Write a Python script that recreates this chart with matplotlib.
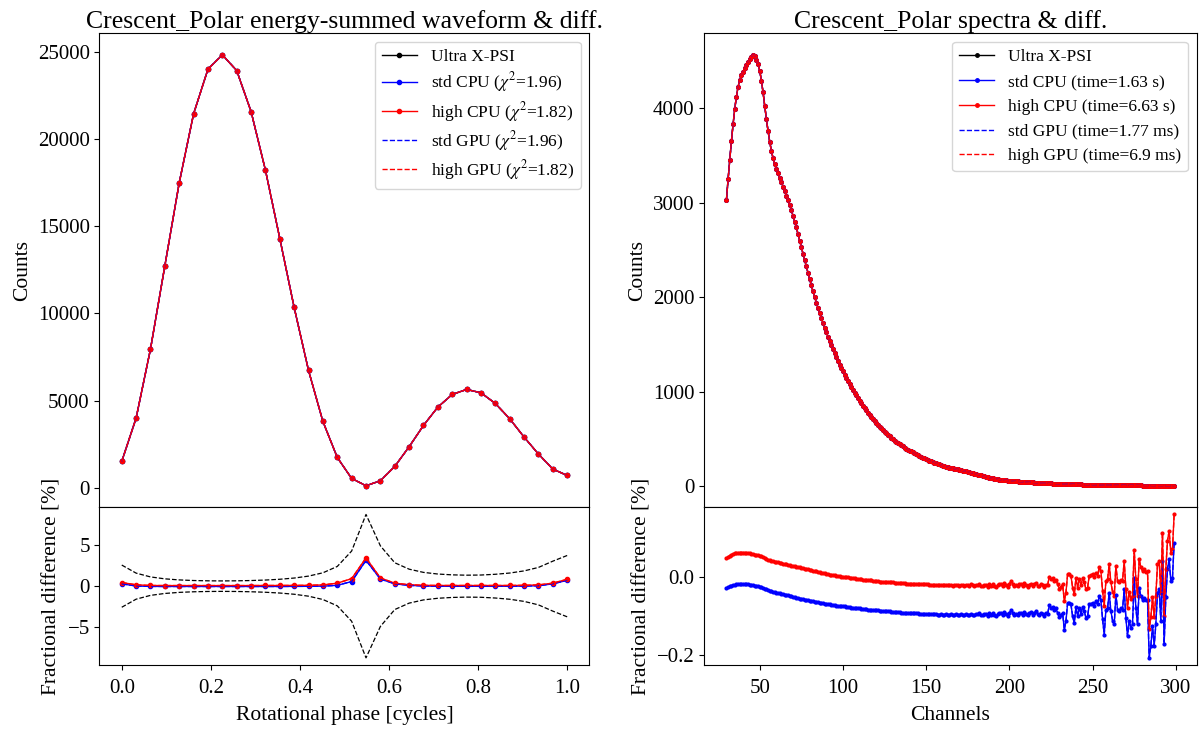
import matplotlib
matplotlib.use("Agg")
import matplotlib.pyplot as plt

plt.rcParams['font.family'] = ['Liberation Serif', 'DejaVu Serif']
plt.rcParams['mathtext.fontset'] = 'stix'

# ---------------- Left: energy-summed waveform ----------------
phase = [i / 31 for i in range(32)]
wave_counts = [1523, 4008, 7959, 12729, 17482, 21433, 23992, 24811, 23912, 21564,
               18209, 14292, 10341, 6734, 3813, 1752, 550, 132, 418, 1237,
               2365, 3585, 4638, 5360, 5646, 5457, 4844, 3968, 2920, 1947,
               1088, 721]
wave_sigma = [2.56, 1.58, 1.12, 0.886, 0.756, 0.683, 0.646, 0.635, 0.647, 0.681,
              0.741, 0.836, 0.983, 1.219, 1.62, 2.39, 4.26, 8.70, 4.89, 2.84,
              2.06, 1.67, 1.47, 1.37, 1.33, 1.35, 1.44, 1.59, 1.85, 2.27,
              3.03, 3.72]
wave_diff_high = [0.44, 0.16, 0.08, 0.07, 0.07, 0.07, 0.07, 0.07, 0.07, 0.07,
                  0.08, 0.08, 0.09, 0.10, 0.15, 0.36, 0.91, 3.42, 0.99, 0.36,
                  0.17, 0.10, 0.08, 0.08, 0.08, 0.08, 0.08, 0.08, 0.10, 0.15,
                  0.36, 0.83]
wave_diff_std = [0.28, 0.02, -0.03, -0.04, -0.04, -0.04, -0.04, -0.04, -0.04, -0.04,
                 -0.04, -0.04, -0.03, -0.02, 0.00, 0.10, 0.56, 3.13, 0.87, 0.28,
                 0.10, 0.02, -0.01, -0.02, -0.02, -0.02, -0.02, -0.01, 0.01, 0.05,
                 0.28, 0.71]

# ---------------- Right: spectra ----------------
channels = list(range(30, 300))
spec_counts = [
    3030, 3249, 3453, 3654, 3831, 3994, 4124, 4227, 4301, 4354,
    4389, 4424, 4460, 4488, 4520, 4548, 4566, 4558, 4513, 4467,
    4400, 4294, 4170, 4029, 3888, 3761, 3648, 3549, 3475, 3408,
    3355, 3312, 3266, 3224, 3171, 3125, 3075, 3030, 2977, 2924,
    2863, 2800, 2740, 2669, 2599, 2530, 2462, 2393, 2325, 2258,
    2192, 2127, 2063, 2000, 1942, 1886, 1831, 1778, 1727, 1677,
    1628, 1581, 1535, 1491, 1448, 1406, 1365, 1326, 1287, 1250,
    1214, 1179, 1145, 1112, 1079, 1048, 1018, 988, 959, 931,
    903, 876, 850, 825, 801, 777, 754, 732, 710, 689,
    669, 649, 630, 611, 593, 575, 558, 542, 526, 510,
    495, 482, 469, 456, 443, 431, 420, 408, 397, 386,
    376, 366, 356, 346, 337, 328, 319, 310, 302, 293,
    285, 278, 270, 263, 256, 249, 242, 236, 229, 223,
    217, 211, 205, 200, 196, 192, 188, 184, 180, 176,
    172, 168, 164, 160, 156, 152, 147, 142, 137, 132,
    127, 122, 117, 112, 107, 102, 97, 92, 88, 84,
    80, 77, 74, 71, 68, 66, 64, 62, 60, 58,
    56, 54.4, 52.9, 51.4, 50.0, 48.6, 47.2, 45.9, 44.6, 43.4,
    42.2, 41.0, 39.8, 38.7, 37.6, 36.6, 35.5, 34.5, 33.6, 32.6,
    31.7, 30.8, 30.0, 29.1, 28.3, 27.5, 26.8, 26.0, 25.3, 24.6,
    23.9, 23.2, 22.6, 21.9, 21.3, 20.7, 20.1, 19.6, 19.0, 18.5,
    18.0, 17.5, 17.0, 16.5, 16.1, 15.6, 15.2, 14.8, 14.3, 13.9,
    13.5, 13.2, 12.8, 12.4, 12.1, 11.7, 11.4, 11.1, 10.8, 10.5,
    10.2, 9.9, 9.6, 9.3, 9.1, 8.8, 8.6, 8.3, 8.1, 7.9,
    7.6, 7.4, 7.2, 7.0, 6.8, 6.6, 6.4, 6.3, 6.1, 5.9,
    5.7, 5.6, 5.4, 5.3, 5.1, 5.0, 4.8, 4.7, 4.6, 4.4,
    4.3, 4.2, 4.1, 3.9, 3.8, 3.7, 3.6, 3.5, 3.4, 3.3]

spec_diff_high = [
    0.046, 0.050, 0.053, 0.056, 0.058, 0.059, 0.060, 0.061, 0.061, 0.061,
    0.061, 0.061, 0.060, 0.060, 0.059, 0.058, 0.057, 0.056, 0.055, 0.054,
    0.053, 0.051, 0.049, 0.047, 0.045, 0.043, 0.041, 0.040, 0.039, 0.038,
    0.037, 0.036, 0.035, 0.034, 0.033, 0.032, 0.031, 0.030, 0.029, 0.028,
    0.027, 0.026, 0.025, 0.024, 0.023, 0.022, 0.021, 0.020, 0.019, 0.018,
    0.017, 0.016, 0.015, 0.014, 0.013, 0.012, 0.011, 0.010, 0.009, 0.008,
    0.007, 0.006, 0.005, 0.004, 0.004, 0.003, 0.002, 0.001, 0.001, 0.000,
    0.000, -0.001, -0.002, -0.002, -0.003, -0.004, -0.004, -0.005, -0.006, -0.006,
    -0.007, -0.007, -0.008, -0.008, -0.009, -0.009, -0.010, -0.010, -0.011, -0.011,
    -0.012, -0.012, -0.013, -0.013, -0.013, -0.014, -0.014, -0.014, -0.015, -0.015,
    -0.015, -0.016, -0.016, -0.016, -0.017, -0.017, -0.017, -0.017, -0.018, -0.018,
    -0.018, -0.018, -0.019, -0.019, -0.019, -0.019, -0.019, -0.020, -0.020, -0.020,
    -0.020, -0.020, -0.021, -0.021, -0.021, -0.021, -0.021, -0.021, -0.022, -0.021,
    -0.022, -0.022, -0.021, -0.022, -0.022, -0.021, -0.023, -0.022, -0.021, -0.022,
    -0.023, -0.021, -0.022, -0.024, -0.021, -0.022, -0.023, -0.020, -0.022, -0.024,
    -0.021, -0.022, -0.019, -0.023, -0.025, -0.021, -0.022, -0.026, -0.020, -0.023,
    -0.018, -0.024, -0.027, -0.021, -0.020, -0.020, -0.024, -0.017, -0.022, -0.026,
    -0.019, -0.012, -0.018, -0.024, -0.021, -0.025, -0.019, -0.020, -0.023, -0.017,
    -0.022, -0.026, -0.021, -0.018, -0.024, -0.020, -0.016, -0.023, -0.025, -0.019,
    -0.022, -0.027, -0.021, -0.022, 0.000, -0.007, -0.004, -0.011, -0.008, -0.020,
    -0.031, -0.026, -0.020, -0.062, -0.041, 0.006, 0.006, 0.002, -0.028, -0.045,
    -0.005, -0.028, -0.007, -0.022, -0.004, -0.015, -0.032, -0.028, 0.002, 0.003,
    0.006, -0.002, 0.010, 0.002, 0.023, 0.014, -0.036, -0.075, -0.011, -0.007,
    0.031, -0.015, -0.039, -0.049, 0.027, -0.011, -0.015, -0.008, -0.011, 0.040,
    -0.032, -0.079, -0.039, -0.058, -0.049, 0.068, -0.007, -0.049, 0.044, 0.023,
    0.014, 0.019, 0.012, 0.014, -0.134, -0.104, -0.053, -0.104, -0.049, 0.031,
    0.040, -0.041, 0.112, -0.100, 0.019, 0.091, 0.116, 0.061, 0.069, 0.158]

spec_diff_std = [
    -0.030, -0.027, -0.025, -0.023, -0.022, -0.021, -0.020, -0.020, -0.019, -0.019,
    -0.019, -0.019, -0.020, -0.020, -0.021, -0.021, -0.022, -0.023, -0.024, -0.025,
    -0.026, -0.027, -0.029, -0.031, -0.033, -0.035, -0.037, -0.038, -0.039, -0.040,
    -0.041, -0.042, -0.043, -0.044, -0.045, -0.046, -0.047, -0.048, -0.049, -0.050,
    -0.052, -0.053, -0.054, -0.055, -0.056, -0.057, -0.058, -0.059, -0.060, -0.061,
    -0.062, -0.063, -0.063, -0.064, -0.065, -0.066, -0.067, -0.067, -0.068, -0.069,
    -0.070, -0.070, -0.071, -0.072, -0.072, -0.073, -0.074, -0.074, -0.075, -0.075,
    -0.076, -0.076, -0.077, -0.077, -0.078, -0.079, -0.079, -0.080, -0.080, -0.081,
    -0.081, -0.082, -0.082, -0.083, -0.083, -0.084, -0.084, -0.085, -0.085, -0.086,
    -0.086, -0.086, -0.087, -0.087, -0.088, -0.088, -0.088, -0.089, -0.089, -0.090,
    -0.090, -0.090, -0.091, -0.091, -0.091, -0.092, -0.092, -0.092, -0.093, -0.093,
    -0.093, -0.093, -0.094, -0.094, -0.094, -0.094, -0.095, -0.095, -0.095, -0.095,
    -0.095, -0.096, -0.096, -0.096, -0.096, -0.096, -0.096, -0.097, -0.097, -0.096,
    -0.097, -0.097, -0.096, -0.097, -0.097, -0.096, -0.098, -0.097, -0.096, -0.097,
    -0.098, -0.096, -0.097, -0.099, -0.096, -0.097, -0.098, -0.095, -0.097, -0.099,
    -0.095, -0.096, -0.093, -0.097, -0.099, -0.095, -0.096, -0.100, -0.094, -0.097,
    -0.092, -0.098, -0.101, -0.095, -0.094, -0.094, -0.098, -0.091, -0.096, -0.100,
    -0.093, -0.086, -0.092, -0.098, -0.095, -0.099, -0.093, -0.094, -0.097, -0.091,
    -0.095, -0.099, -0.094, -0.091, -0.097, -0.093, -0.089, -0.096, -0.098, -0.092,
    -0.095, -0.100, -0.094, -0.095, -0.073, -0.080, -0.077, -0.084, -0.081, -0.093,
    -0.104, -0.099, -0.093, -0.135, -0.114, -0.067, -0.067, -0.071, -0.101, -0.118,
    -0.078, -0.101, -0.080, -0.095, -0.077, -0.088, -0.105, -0.101, -0.071, -0.070,
    -0.067, -0.075, -0.063, -0.071, -0.050, -0.059, -0.109, -0.148, -0.084, -0.080,
    -0.042, -0.088, -0.112, -0.122, -0.046, -0.084, -0.088, -0.081, -0.084, -0.033,
    -0.105, -0.152, -0.112, -0.131, -0.122, -0.005, -0.080, -0.122, -0.029, -0.050,
    -0.059, -0.054, -0.061, -0.059, -0.207, -0.177, -0.126, -0.177, -0.122, -0.042,
    -0.032, -0.113, 0.040, -0.172, -0.053, 0.019, 0.044, -0.011, -0.003, 0.086]

wave_labels = ['Ultra X-PSI', r'std CPU ($\chi^2$=1.96)', r'high CPU ($\chi^2$=1.82)',
               r'std GPU ($\chi^2$=1.96)', r'high GPU ($\chi^2$=1.82)']
spec_labels = ['Ultra X-PSI', 'std CPU (time=1.63 s)', 'high CPU (time=6.63 s)',
               'std GPU (time=1.77 ms)', 'high GPU (time=6.9 ms)']

TICK = 15
LAB = 15.5
TITLE = 18.5
LEG = 12.5

fig = plt.figure(figsize=(12, 7.32), dpi=100)
axL = fig.add_axes([0.0829, 0.307, 0.4083, 0.6475])
axLr = fig.add_axes([0.0829, 0.0915, 0.4083, 0.2155], sharex=axL)
axR = fig.add_axes([0.5867, 0.307, 0.4104, 0.6475])
axRr = fig.add_axes([0.5867, 0.0915, 0.4104, 0.2155], sharex=axR)


def main_panel(ax, x, y, labels, ms, spacing):
    ax.plot(x, y, color='black', marker='.', ms=ms, lw=1, label=labels[0])
    ax.plot(x, y, color='blue', marker='.', ms=ms, lw=1, label=labels[1])
    ax.plot(x, y, color='red', marker='.', ms=ms, lw=1, label=labels[2])
    ax.plot(x, y, color='blue', ls='--', lw=1, label=labels[3])
    ax.plot(x, y, color='red', ls='--', lw=1, label=labels[4])
    ax.legend(loc='upper right', fontsize=LEG, labelspacing=spacing)
    ax.set_ylabel('Counts', fontsize=LAB)
    ax.tick_params(axis='x', bottom=False, labelbottom=False)
    ax.tick_params(axis='y', labelsize=TICK)


def resid_panel(ax, x, d_std, d_high, ms):
    ax.plot(x, d_std, color='blue', marker='.', ms=ms, lw=1)
    ax.plot(x, d_high, color='red', marker='.', ms=ms, lw=1)
    ax.plot(x, d_std, color='blue', ls='--', lw=1)
    ax.plot(x, d_high, color='red', ls='--', lw=1)
    ax.set_ylabel('Fractional difference [%]', fontsize=LAB)
    ax.tick_params(labelsize=TICK)
    ax.tick_params(axis='x', pad=6.5)


main_panel(axL, phase, wave_counts, wave_labels, 6, 0.3)
axLr.plot(phase, wave_sigma, color='black', ls='--', lw=0.9)
axLr.plot(phase, [-s for s in wave_sigma], color='black', ls='--', lw=0.9)
resid_panel(axLr, phase, wave_diff_std, wave_diff_high, 6)
axLr.set_xlabel('Rotational phase [cycles]', fontsize=LAB, labelpad=6)
axLr.set_yticks([-5, 0, 5])
axL.set_title('Crescent_Polar energy-summed waveform & diff.', fontsize=TITLE, pad=4)

main_panel(axR, channels, spec_counts, spec_labels, 5, 0.5)
resid_panel(axRr, channels, spec_diff_std, spec_diff_high, 4)
axRr.set_xlabel('Channels', fontsize=LAB, labelpad=6)
axR.set_title('Crescent_Polar spectra & diff.', fontsize=TITLE, pad=4)

fig.savefig('out.png', dpi=100)
